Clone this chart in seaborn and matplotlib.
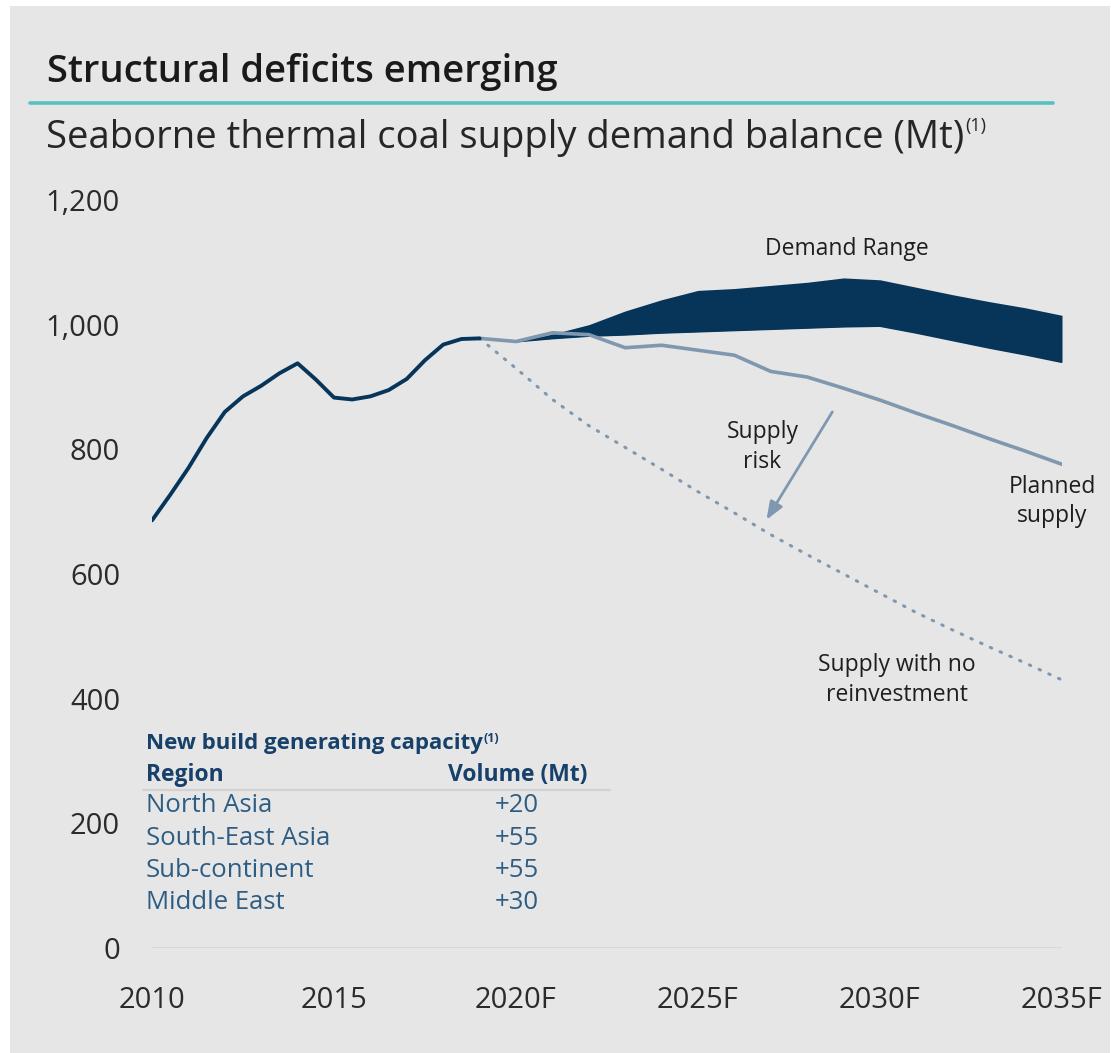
import matplotlib
matplotlib.use("Agg")
import matplotlib.pyplot as plt
from matplotlib.patches import Rectangle
from matplotlib.lines import Line2D
import numpy as np
import pandas as pd
import seaborn as sns

# ---- data (Mt) ----
hist_years = [2010, 2010.5, 2011, 2011.5, 2012, 2012.5, 2013, 2013.5, 2014, 2014.5,
              2015, 2015.5, 2016, 2016.5, 2017, 2017.5, 2018, 2018.5, 2019]
hist_mt = [686, 727, 770, 818, 860, 885, 902, 922, 938, 912,
           883, 880, 885, 895, 913, 943, 968, 977, 978]

fc_years = list(range(2019, 2036))
planned_mt = [978, 973, 987, 984, 963, 967, 959, 951, 925, 916,
              898, 879, 858, 838, 817, 797, 776]
no_reinvest_mt = [978, 930, 880, 838, 803, 768, 732, 698, 663, 631,
                  600, 569, 538, 510, 483, 457, 430]

demand_years = list(range(2020, 2036))
demand_low = [973, 978, 982, 984, 987, 989, 991, 993, 995, 997,
              998, 987, 975, 963, 952, 940]
demand_high = [973, 985, 1000, 1022, 1040, 1055, 1058, 1063, 1068, 1075,
               1072, 1060, 1048, 1037, 1027, 1015]

regions = ["North Asia", "South-East Asia", "Sub-continent", "Middle East"]
volumes = [20, 55, 55, 30]

x_ticks = [2010, 2015, 2020, 2025, 2030, 2035]
x_tick_labels = ["2010", "2015", "2020F", "2025F", "2030F", "2035F"]
y_ticks = [0, 200, 400, 600, 800, 1000, 1200]

# ---- style ----
NAVY = "#07355a"
STEEL = "#7f98b0"
PANEL = "#e6e6e6"
TEAL = "#55c1bf"

sns.set_theme(style="white")
plt.rcParams["font.family"] = ["Open Sans", "DejaVu Sans"]

W, H = 1111, 1053
fig = plt.figure(figsize=(W / 100, H / 100), dpi=100, facecolor="white")
fig.patches.append(Rectangle((10 / W, 0), 1100 / W, 1 - 6 / H,
                             transform=fig.transFigure, facecolor=PANEL,
                             edgecolor="none", zorder=-10))


def fx(px):
    return px / W


def fy(py):
    return 1 - py / H


ax = fig.add_axes([fx(152), fy(948), (1062 - 152) / W, (948 - 200) / H])
ax.set_facecolor("none")

hist = pd.DataFrame({"year": hist_years, "mt": hist_mt})
fc = pd.DataFrame({"year": fc_years, "planned": planned_mt, "none": no_reinvest_mt})
dem = pd.DataFrame({"year": demand_years, "low": demand_low, "high": demand_high})

# baseline at zero
ax.axhline(0, color="#d6d6d6", lw=1.2, zorder=0)

# demand range band
ax.fill_between(dem["year"], dem["low"], dem["high"], color=NAVY, lw=0, zorder=2)
sns.lineplot(data=dem, x="year", y="low", ax=ax, color=NAVY, lw=1.5, zorder=2)

# supply paths
sns.lineplot(data=fc, x="year", y="none", ax=ax, color=STEEL, lw=2.2,
             linestyle=(0, (0.5, 3.0)), dash_capstyle="round", zorder=3)
sns.lineplot(data=fc, x="year", y="planned", ax=ax, color=STEEL, lw=2.6,
             solid_joinstyle="round", zorder=3)
sns.lineplot(data=hist, x="year", y="mt", ax=ax, color=NAVY, lw=2.8,
             solid_joinstyle="round", solid_capstyle="round", zorder=4)

ax.set_xlim(2010, 2035)
ax.set_ylim(0, 1200)
ax.set_xticks(x_ticks)
ax.set_xticklabels(x_tick_labels)
ax.set_yticks(y_ticks)
ax.set_yticklabels([f"{v:,}" for v in y_ticks])
ax.tick_params(axis="both", length=0, labelsize=21, colors="#2b2b2b")
ax.tick_params(axis="y", pad=23)
ax.tick_params(axis="x", pad=27)
ax.set_xlabel("")
ax.set_ylabel("")
for s in ax.spines.values():
    s.set_visible(False)
ax.grid(False)

# annotations
ann_kw = dict(ha="center", va="center", fontsize=16.5, color="#1e1e1e",
              linespacing=1.3, clip_on=False)
ax.text(2029.1, 1121, "Demand Range", **ann_kw)
ax.text(2026.77, 804, "Supply\nrisk", **ann_kw)
ax.text(2034.73, 716, "Planned\nsupply", **ann_kw)
ax.text(2030.47, 430, "Supply with no\nreinvestment", **ann_kw)
ax.annotate("", xy=(2026.88, 687), xytext=(2028.69, 860),
            arrowprops=dict(arrowstyle="-|>,head_length=0.9,head_width=0.35",
                            color=STEEL, lw=2, shrinkA=0, shrinkB=0))

# title block
fig.text(fx(47), fy(72), "Structural deficits emerging", fontsize=27.5,
         fontweight="semibold", color="#1a1a1a", va="center", ha="left")
fig.add_artist(Line2D([fx(30), fx(1053)], [fy(103), fy(103)], color=TEAL, lw=2.6))
sub = fig.text(fx(46), fy(138), "Seaborne thermal coal supply demand balance (Mt)",
               fontsize=27.5, color="#262626", va="center", ha="left")

renderer = fig.canvas.get_renderer()


def sup_after(txt, label, size, dy, **kw):
    bb = txt.get_window_extent(renderer=renderer)
    fig.text(bb.x1 / W + 1 / W, fy(dy), label, fontsize=size, va="center",
             ha="left", **kw)


sup_after(sub, "(1)", 13, 126, color="#262626")

# new build capacity table
HDR = "#17406a"
ROW = "#2e5d84"
hdr = fig.text(fx(146), fy(743), "New build generating capacity", fontsize=16,
               fontweight="bold", color=HDR, va="center", ha="left")
sup_after(hdr, "(1)", 9, 738, color=HDR, fontweight="bold")
fig.text(fx(146), fy(775), "Region", fontsize=16.5, fontweight="bold", color=HDR,
         va="center", ha="left")
fig.text(fx(518), fy(775), "Volume (Mt)", fontsize=16.5, fontweight="bold",
         color=HDR, va="center", ha="center")
fig.add_artist(Line2D([fx(143), fx(610)], [fy(790), fy(790)], color="#d2d2d2", lw=1.6))
for i, (reg, vol) in enumerate(zip(regions, volumes)):
    yy = fy(806 + i * 32.3)
    fig.text(fx(146), yy, reg, fontsize=18.5, color=ROW, va="center", ha="left")
    fig.text(fx(517), yy, f"+{vol}", fontsize=18.5, color=ROW, va="center", ha="center")

fig.savefig("out.png", dpi=100, facecolor="white")
